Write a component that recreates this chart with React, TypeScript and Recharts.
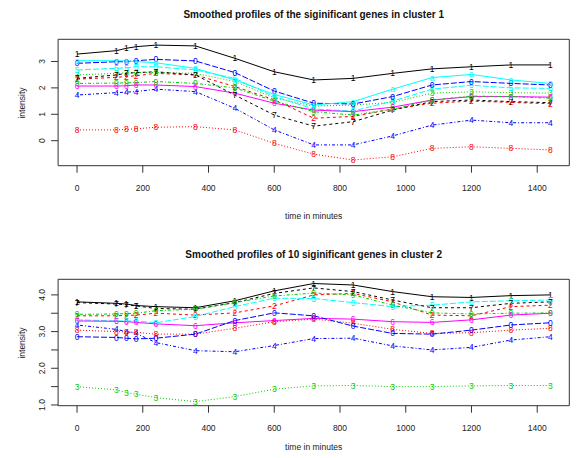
import { LineChart, Line, XAxis, YAxis, ReferenceArea } from 'recharts';

const minutes = [0, 120, 150, 180, 240, 360, 480, 600, 720, 840, 960, 1080, 1200, 1320, 1440];
const xTicks = [0, 200, 400, 600, 800, 1000, 1200, 1400];

// cluster 1 smoothed profiles (11 genes)
const c1Gene1 = [3.28, 3.41, 3.5, 3.56, 3.62, 3.59, 3.12, 2.61, 2.3, 2.36, 2.55, 2.72, 2.8, 2.87, 2.87];
const c1Gene2 = [2.33, 2.4, 2.43, 2.46, 2.55, 2.49, 2.05, 1.55, 0.85, 0.92, 1.2, 1.42, 1.5, 1.45, 1.4];
const c1Gene3 = [2.49, 2.55, 2.57, 2.58, 2.58, 2.55, 2.24, 1.62, 1.31, 1.35, 1.45, 1.8, 1.85, 1.82, 1.8];
const c1Gene4 = [1.73, 1.82, 1.84, 1.86, 1.95, 1.86, 1.23, 0.41, -0.16, -0.16, 0.18, 0.59, 0.78, 0.68, 0.68];
const c1Gene5 = [2.68, 2.74, 2.76, 2.8, 2.8, 2.68, 2.36, 1.67, 1.2, 1.12, 1.5, 1.95, 2.1, 2.0, 1.98];
const c1Gene6 = [2.07, 2.07, 2.08, 2.11, 2.11, 2.05, 1.8, 1.42, 1.16, 1.1, 1.27, 1.54, 1.67, 1.67, 1.65];
const c1Gene7 = [2.36, 2.49, 2.55, 2.58, 2.61, 2.49, 1.73, 0.97, 0.55, 0.72, 1.16, 1.48, 1.54, 1.48, 1.44];
const c1Gene8 = [0.41, 0.41, 0.43, 0.45, 0.51, 0.53, 0.41, -0.1, -0.51, -0.73, -0.61, -0.29, -0.23, -0.29, -0.35];
const c1Gene9 = [2.17, 2.18, 2.19, 2.2, 2.24, 2.17, 2.0, 1.5, 1.1, 0.97, 1.19, 1.54, 1.69, 1.67, 1.61];
const c1Gene0 = [2.93, 2.99, 2.99, 3.03, 3.08, 3.02, 2.58, 1.88, 1.42, 1.39, 1.67, 2.11, 2.24, 2.17, 2.11];
const c1GeneA = [3.03, 3.03, 3.02, 3.0, 2.95, 2.74, 2.3, 1.75, 1.35, 1.48, 1.95, 2.39, 2.51, 2.3, 2.17];

// cluster 2 smoothed profiles (10 genes)
const c2Gene1 = [3.81, 3.77, 3.75, 3.71, 3.68, 3.65, 3.84, 4.11, 4.31, 4.27, 4.09, 3.95, 3.93, 3.98, 4.0];
const c2Gene2 = [3.43, 3.43, 3.44, 3.45, 3.5, 3.45, 3.51, 3.7, 4.0, 4.04, 3.81, 3.45, 3.43, 3.68, 3.72];
const c2Gene3 = [1.5, 1.41, 1.34, 1.29, 1.2, 1.09, 1.23, 1.43, 1.52, 1.53, 1.5, 1.5, 1.52, 1.53, 1.53];
const c2Gene4 = [3.18, 3.06, 3.0, 2.95, 2.7, 2.48, 2.45, 2.62, 2.81, 2.82, 2.61, 2.5, 2.57, 2.77, 2.86];
const c2Gene5 = [3.32, 3.29, 3.29, 3.29, 3.24, 3.41, 3.68, 3.91, 3.9, 3.79, 3.68, 3.72, 3.81, 3.84, 3.86];
const c2Gene6 = [3.29, 3.28, 3.27, 3.25, 3.21, 3.16, 3.24, 3.3, 3.36, 3.34, 3.27, 3.25, 3.32, 3.45, 3.5];
const c2Gene7 = [3.79, 3.75, 3.73, 3.7, 3.63, 3.61, 3.79, 4.04, 4.19, 4.09, 3.86, 3.65, 3.65, 3.77, 3.81];
const c2Gene8 = [3.04, 3.0, 2.99, 2.98, 2.93, 2.93, 3.09, 3.27, 3.34, 3.23, 3.06, 2.95, 2.97, 3.04, 3.09];
const c2Gene9 = [3.47, 3.48, 3.49, 3.5, 3.57, 3.61, 3.79, 3.97, 4.05, 4.0, 3.72, 3.51, 3.48, 3.5, 3.51];
const c2Gene0 = [2.86, 2.84, 2.82, 2.8, 2.82, 2.93, 3.3, 3.51, 3.43, 3.15, 2.95, 2.93, 3.04, 3.18, 3.24];

const cluster1 = [c1Gene1, c1Gene2, c1Gene3, c1Gene4, c1Gene5, c1Gene6, c1Gene7, c1Gene8, c1Gene9, c1Gene0, c1GeneA];
const cluster2 = [c2Gene1, c2Gene2, c2Gene3, c2Gene4, c2Gene5, c2Gene6, c2Gene7, c2Gene8, c2Gene9, c2Gene0];

const pchLabels = ['1', '2', '3', '4', '5', '6', '7', '8', '9', '0', 'a'];

// R matplot defaults: col = 1:6, lty = 1:5
const palette = ['#000000', '#FF0000', '#00CD00', '#0000FF', '#00FFFF', '#FF00FF'];
const dashes = ['', '3 3', '1 2', '1 2 3 2', '6 2'];

const FONT = '"Liberation Sans", Arial, Helvetica, sans-serif';
const X_DOMAIN = [-57.6, 1497.6];

function toRows(series: number[][]) {
  return minutes.map((t, i) => {
    const row: Record<string, number> = { t };
    series.forEach((s, k) => {
      row['g' + k] = s[i];
    });
    return row;
  });
}

const pchDot = (ch: string, color: string) => (p: any) => (
  <text
    key={`${ch}-${p.index}`}
    x={p.cx}
    y={p.cy}
    dy="0.36em"
    textAnchor="middle"
    fontSize={8.5}
    fontFamily={FONT}
    fill={color}
  >
    {ch}
  </text>
);

const XTick = (p: any) => (
  <text x={p.x} y={p.y + 16} textAnchor="middle" fontSize={8.5} fontFamily={FONT} fill="#222">
    {p.payload.value}
  </text>
);

const makeYTick = (fmt: (v: number) => string) => (p: any) => {
  const v = p.payload.value;
  if (!Number.isInteger(v)) return <g />;
  const x = p.x - 4;
  return (
    <text
      x={x}
      y={p.y}
      transform={`rotate(-90 ${x} ${p.y})`}
      textAnchor="middle"
      fontSize={8.5}
      fontFamily={FONT}
      fill="#222"
    >
      {fmt(v)}
    </text>
  );
};

interface PanelProps {
  top: number;
  height: number;
  xLabelTop: number;
  title: string;
  series: number[][];
  yDomain: number[];
  yTicks: number[];
  yFmt: (v: number) => string;
}

function Panel({ top, height, xLabelTop, title, series, yDomain, yTicks, yFmt }: PanelProps) {
  const rows = toRows(series);
  const plotTop = 39.3;
  const plotH = 126.4;
  return (
    <div style={{ position: 'absolute', left: 0, top, width: 576, height }}>
      <div
        style={{
          position: 'absolute', left: 58.1, width: 511.2, top: 9, lineHeight: '12px',
          textAlign: 'center', fontFamily: FONT, fontWeight: 'bold', fontSize: 10, color: '#111',
        }}
      >
        {title}
      </div>
      <div
        style={{
          position: 'absolute', left: 58.1, width: 511.2, top: xLabelTop, lineHeight: '12px',
          textAlign: 'center', fontFamily: FONT, fontSize: 8.5, color: '#222',
        }}
      >
        time in minutes
      </div>
      <div
        style={{
          position: 'absolute', left: 22, top: plotTop + plotH / 2, lineHeight: '12px',
          transform: 'translate(-50%, -50%) rotate(-90deg)', whiteSpace: 'nowrap',
          fontFamily: FONT, fontSize: 8.5, color: '#222',
        }}
      >
        intensity
      </div>
      <LineChart
        width={576}
        height={height}
        data={rows}
        margin={{ top: plotTop, right: 6.7, left: 0, bottom: 0 }}
        style={{ position: 'absolute', left: 0, top: 0 }}
      >
        <XAxis
          type="number"
          dataKey="t"
          domain={X_DOMAIN}
          ticks={xTicks}
          interval={0}
          height={height - plotTop - plotH}
          axisLine={false}
          tickSize={7}
          tickLine={{ stroke: '#333' }}
          tick={XTick}
        />
        <YAxis
          type="number"
          domain={yDomain}
          ticks={yTicks}
          interval={0}
          width={58.1}
          axisLine={false}
          tickSize={7}
          tickLine={{ stroke: '#333' }}
          tick={makeYTick(yFmt)}
        />
        <ReferenceArea
          x1={X_DOMAIN[0]}
          x2={X_DOMAIN[1]}
          y1={yDomain[0]}
          y2={yDomain[1]}
          fill="none"
          stroke="#333"
          strokeWidth={1}
          ifOverflow="visible"
        />
        {series.map((_, k) => (
          <Line
            key={k}
            dataKey={'g' + k}
            stroke={palette[k % 6]}
            strokeDasharray={dashes[k % 5]}
            strokeWidth={1}
            dot={pchDot(pchLabels[k], palette[k % 6])}
            activeDot={false}
            isAnimationActive={false}
          />
        ))}
      </LineChart>
    </div>
  );
}

export default function App() {
  return (
    <div style={{ position: 'fixed', left: 0, top: 0, width: 576, height: 458, background: '#fff', overflow: 'hidden' }}>
      <Panel
        top={0}
        height={229}
        xLabelTop={210}
        title="Smoothed profiles of the siginificant genes in cluster 1"
        series={cluster1}
        yDomain={[-0.947, 3.84]}
        yTicks={[0, 1, 2, 3]}
        yFmt={(v) => String(v)}
      />
      <Panel
        top={240}
        height={218}
        xLabelTop={201}
        title="Smoothed profiles of 10 siginificant genes in cluster 2"
        series={cluster2}
        yDomain={[0.98, 4.425]}
        yTicks={[1, 1.5, 2, 2.5, 3, 3.5, 4]}
        yFmt={(v) => v.toFixed(1)}
      />
    </div>
  );
}
